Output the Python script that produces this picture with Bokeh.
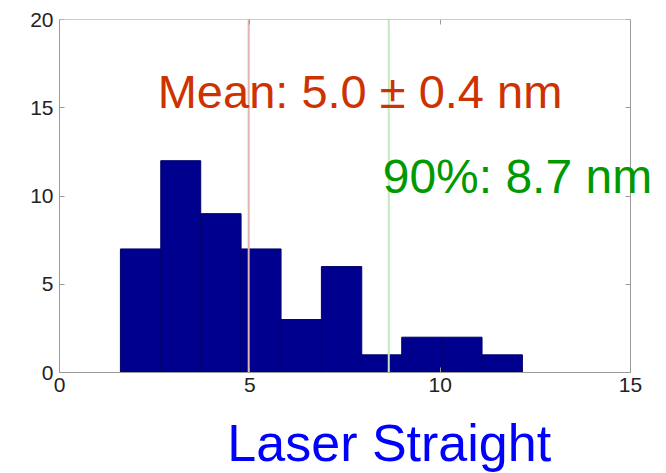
from bokeh.plotting import figure
from bokeh.models import Label, LinearAxis, FixedTicker, Range1d, CustomJSTickFormatter
from bokeh.core.properties import value
from bokeh.embed import file_html
from bokeh.resources import INLINE

# Data
bin_edges = [1.60, 2.66, 3.71, 4.77, 5.82, 6.88, 7.94, 8.99, 10.05, 11.10, 12.16]
counts = [7, 12, 9, 7, 3, 6, 1, 2, 2, 1]
x_ticks = [0, 5, 10, 15]
x_tick_labels = ["0", "5", "10", "15"]
y_ticks = [0, 5, 10, 15, 20]
x_axis_range = (0, 15)
y_axis_range = (0, 20)
marker_values = [4.97, 8.65]          # mean, 90 % value
marker_colors = ["#e2b4b4", "#c4e8c4"]
mean_text = "Mean: 5.0 \u00b1 0.4 nm"
p90_text = "90%: 8.7 nm"
caption = "Laser Straight"

FONT = "Liberation Sans"
AXIS_COLOR = "#9a9a9a"

W, H = 660, 473
FRAME_LEFT, FRAME_TOP = 53, 19
BOX_LEFT, BOX_RIGHT, BOX_TOP, BOX_BOTTOM = 59, 630, 19, 372
px_x = (BOX_RIGHT - BOX_LEFT) / (x_axis_range[1] - x_axis_range[0])
px_y = (BOX_BOTTOM - BOX_TOP) / (y_axis_range[1] - y_axis_range[0])
x_start = -(BOX_LEFT - FRAME_LEFT) / px_x
x_end = x_start + (W - FRAME_LEFT) / px_x
y_end = y_axis_range[1]
y_start = y_end - (H - FRAME_TOP) / px_y

p = figure(width=W, height=H, output_backend="svg", toolbar_location=None,
           x_range=Range1d(x_start, x_end), y_range=Range1d(y_start, y_end),
           x_axis_location=None, y_axis_location=None,
           min_border_left=FRAME_LEFT, min_border_right=0, min_border_top=FRAME_TOP,
           min_border_bottom=0)
p.xgrid.visible = False
p.ygrid.visible = False
p.outline_line_color = None
p.background_fill_color = "white"
p.border_fill_color = "white"

p.quad(left=bin_edges[:-1], right=bin_edges[1:], top=counts, bottom=0,
       fill_color="#00008f", line_color="#00006a", line_width=1)

p.segment(x0=marker_values, x1=marker_values,
          y0=[y_axis_range[0]] * len(marker_values), y1=[y_axis_range[1]] * len(marker_values),
          line_color=marker_colors, line_width=2)

blank = CustomJSTickFormatter(code="return ''")
common = dict(axis_line_color=AXIS_COLOR, major_tick_line_color=AXIS_COLOR,
              minor_tick_line_color=None)

# y tick labels (in the left border, not clipped)
y_labels = LinearAxis(ticker=FixedTicker(ticks=y_ticks), axis_line_color=None,
                      major_tick_line_color=None, minor_tick_line_color=None,
                      major_tick_in=0, major_tick_out=0, major_label_standoff=0,
                      major_label_text_font=FONT, major_label_text_font_size="21px",
                      major_label_text_color="#222222")
p.add_layout(y_labels, "left")
# left edge of the box at x = 0
y_left = LinearAxis(ticker=FixedTicker(ticks=y_ticks), bounds=y_axis_range, formatter=blank,
                    fixed_location=x_axis_range[0], major_tick_in=5, major_tick_out=0,
                    major_label_standoff=0, **common)
p.add_layout(y_left, "left")
# right edge of the box, ticks pointing inward
y_right = LinearAxis(ticker=FixedTicker(ticks=y_ticks), bounds=y_axis_range, formatter=blank,
                     fixed_location=x_axis_range[1], major_tick_in=0, major_tick_out=5,
                     major_label_standoff=0, **common)
p.add_layout(y_right, "left")
# top edge of the box
x_top = LinearAxis(ticker=FixedTicker(ticks=x_ticks), bounds=x_axis_range, formatter=blank,
                   fixed_location=y_axis_range[1], major_tick_in=5, major_tick_out=0,
                   major_label_standoff=0, **common)
p.add_layout(x_top, "above")
# bottom edge of the box at y = 0, ticks pointing up into the box
x_bottom = LinearAxis(ticker=FixedTicker(ticks=x_ticks), bounds=x_axis_range, formatter=blank,
                      fixed_location=y_axis_range[0], major_tick_in=0, major_tick_out=5,
                      major_label_standoff=0, **common)
p.add_layout(x_bottom, "above")

# x tick labels under the box
p.text(x=x_ticks, y=[y_axis_range[0]] * len(x_ticks), text=x_tick_labels,
       text_font=value(FONT), text_font_size="21px", text_color="#222222",
       text_align="center", text_baseline="top", y_offset=5)

p.add_layout(Label(x=2.58, y=15.9, text=mean_text, text_font=FONT, text_font_size="47px",
                   text_color="#cc3300", text_baseline="alphabetic", text_align="left"))
p.add_layout(Label(x=8.49, y=11.1, text=p90_text, text_font=FONT, text_font_size="48px",
                   text_color="#009900", text_baseline="alphabetic", text_align="left"))
p.add_layout(Label(x=4.41, y=-3.99, text=caption, text_font=FONT, text_font_size="52px",
                   text_color="#0000ff", text_baseline="alphabetic", text_align="left"))

open("out.html", "w").write(file_html(p, INLINE))
